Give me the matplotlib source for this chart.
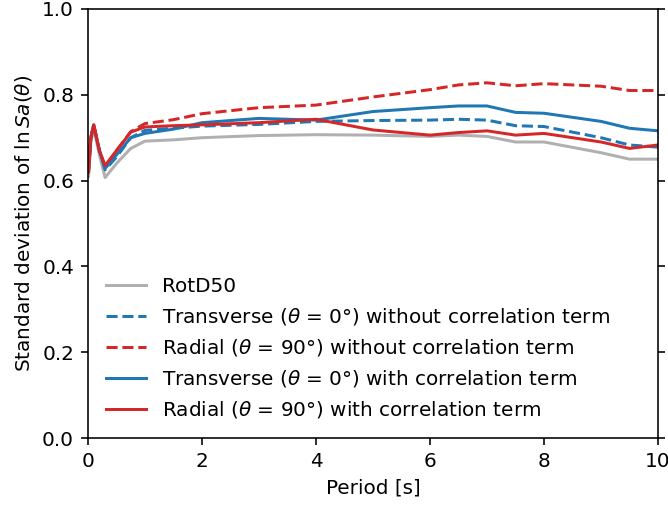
import numpy as np
import matplotlib
matplotlib.use("Agg")
import matplotlib.pyplot as plt

# periods [s] and standard deviations
period = [0.01, 0.05, 0.1, 0.2, 0.3, 0.5, 0.75, 1.0, 1.5, 2.0, 3.0, 4.0,
          5.0, 6.0, 6.5, 7.0, 7.5, 8.0, 9.0, 9.5, 10.0]
rotd50 = [0.61, 0.69, 0.72, 0.66, 0.607, 0.64, 0.675, 0.692, 0.695, 0.700, 0.705, 0.707,
          0.706, 0.703, 0.706, 0.703, 0.69, 0.69, 0.665, 0.65, 0.65]
trans_nocorr = [0.63, 0.70, 0.73, 0.67, 0.625, 0.655, 0.70, 0.717, 0.722, 0.727, 0.731, 0.738,
                0.740, 0.741, 0.743, 0.741, 0.728, 0.726, 0.70, 0.683, 0.678]
rad_nocorr = [0.62, 0.70, 0.73, 0.67, 0.632, 0.67, 0.714, 0.733, 0.742, 0.756, 0.77, 0.776,
              0.795, 0.812, 0.823, 0.828, 0.821, 0.826, 0.82, 0.81, 0.81]
trans_corr = [0.63, 0.70, 0.73, 0.67, 0.628, 0.66, 0.70, 0.71, 0.72, 0.735, 0.745, 0.741,
              0.761, 0.77, 0.774, 0.774, 0.759, 0.757, 0.738, 0.722, 0.716]
rad_corr = [0.62, 0.70, 0.73, 0.67, 0.635, 0.67, 0.713, 0.725, 0.728, 0.73, 0.735, 0.743,
            0.718, 0.706, 0.712, 0.716, 0.706, 0.71, 0.69, 0.675, 0.683]

DPI = 144
fig = plt.figure(figsize=(668/DPI, 505/DPI), dpi=DPI)
ax = fig.add_axes([88/668, 67/505, 570/668, 429/505])

ax.plot(period, rotd50, color='#b0b0b0', lw=1.5, label='RotD50')
ax.plot(period, trans_nocorr, '--', color='tab:blue', lw=1.5,
        label=r'Transverse ($\theta$ = 0°) without correlation term')
ax.plot(period, rad_nocorr, '--', color='tab:red', lw=1.5,
        label=r'Radial ($\theta$ = 90°) without correlation term')
ax.plot(period, trans_corr, color='tab:blue', lw=1.5,
        label=r'Transverse ($\theta$ = 0°) with correlation term')
ax.plot(period, rad_corr, color='tab:red', lw=1.5,
        label=r'Radial ($\theta$ = 90°) with correlation term')

ax.set_xlim(0, 10)
ax.set_ylim(0, 1.0)
ax.set_xticks(np.arange(0, 11, 2))
ax.set_yticks(np.arange(0, 1.01, 0.2))
ax.tick_params(right=True)
ax.set_xlabel('Period [s]')
ax.set_ylabel(r'Standard deviation of $\ln Sa(\theta)$')
ax.legend(loc='lower left', frameon=False)

# the reference is cropped at the right, so the "10" label is cut there too
fig.savefig('out.png', dpi=DPI)
